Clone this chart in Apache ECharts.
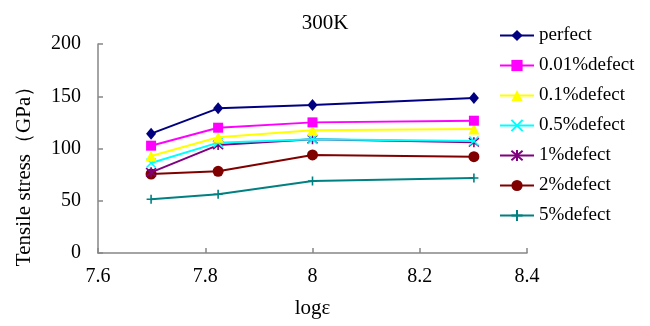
<!DOCTYPE html>
<html>
<head>
<meta charset="utf-8">
<script src="https://cdn.jsdelivr.net/npm/echarts@6/dist/echarts.min.js"></script>
<style>
  html, body { margin: 0; padding: 0; background: #fff; }
  #chart { width: 650px; height: 326px; }
</style>
</head>
<body>
<div id="chart"></div>
<script>
// Strain-rate axis (log of strain rate)
const logRate = [7.699, 7.824, 8.0, 8.301];

// Tensile stress (GPa) for each defect concentration
const perfect   = [114.2, 138.4, 141.6, 148.3];
const def001    = [102.7, 119.9, 125.0, 126.6];
const def01     = [92.8, 110.7, 117.4, 118.7];
const def05     = [86.1, 105.6, 108.8, 107.2];
const def1      = [77.2, 103.3, 108.8, 105.9];
const def2      = [75.6, 78.2, 93.8, 92.2];
const def5      = [51.4, 56.2, 68.9, 71.8];

const seriesNames = ['perfect', '0.01%defect', '0.1%defect', '0.5%defect', '1%defect', '2%defect', '5%defect'];
const seriesValues = [perfect, def001, def01, def05, def1, def2, def5];
const seriesColors = ['#000080', '#FF00FF', '#FFFF00', '#00FFFF', '#800080', '#800000', '#008080'];

const serif = '"Liberation Serif", "Times New Roman", serif';

const markers = [
  { symbol: 'diamond', size: [10, 12], stroke: false },
  { symbol: 'rect', size: 10, stroke: false },
  { symbol: 'triangle', size: 11, stroke: false },
  { symbol: 'path://M0,0L10,10M10,0L0,10', size: 9, stroke: true },
  { symbol: 'path://M0,0L10,10M10,0L0,10M5,-1L5,11', size: 10, stroke: true },
  { symbol: 'circle', size: 11, stroke: false },
  { symbol: 'path://M5,0L5,10M0,5L10,5', size: 9, stroke: true }
];

const series = seriesNames.map((name, i) => {
  const c = seriesColors[i];
  const m = markers[i];
  return {
    name: name,
    type: 'line',
    data: logRate.map((x, j) => [x, seriesValues[i][j]]),
    symbol: m.symbol,
    symbolSize: m.size,
    showSymbol: true,
    lineStyle: { color: c, width: 2 },
    itemStyle: m.stroke
      ? { color: c, borderColor: c, borderWidth: 1.6 }
      : { color: c, borderWidth: 0 },
    emphasis: { disabled: true },
    animation: false,
    z: 10 - i
  };
});

const chart = echarts.init(document.getElementById('chart'), null, { renderer: 'canvas' });
chart.setOption({
  backgroundColor: '#ffffff',
  animation: false,
  title: {
    text: '300K',
    left: 'center',
    top: 8,
    textStyle: { fontFamily: serif, fontSize: 21, fontWeight: 'normal', color: '#000' }
  },
  legend: {
    orient: 'vertical',
    left: 494,
    top: 21,
    itemWidth: 34,
    itemHeight: 14,
    itemGap: 11,
    textStyle: { fontFamily: serif, fontSize: 19, color: '#000' },
    data: seriesNames
  },
  grid: { left: 98, right: 123, top: 44, bottom: 73, containLabel: false },
  xAxis: {
    type: 'value',
    min: 7.6,
    max: 8.4,
    interval: 0.2,
    name: 'logε',
    nameLocation: 'middle',
    nameGap: 45,
    nameTextStyle: { fontFamily: serif, fontSize: 21, color: '#000' },
    axisLine: { show: true, lineStyle: { color: '#868686', width: 1.5 } },
    axisTick: { show: true, inside: true, length: 5, lineStyle: { color: '#868686', width: 1.5 } },
    axisLabel: {
      fontFamily: serif, fontSize: 20, color: '#000', margin: 14,
      formatter: v => String(Math.round(v * 10) / 10)
    },
    splitLine: { show: false }
  },
  yAxis: {
    type: 'value',
    min: 0,
    max: 200,
    interval: 50,
    axisLine: { show: true, lineStyle: { color: '#868686', width: 1.5 } },
    axisTick: { show: true, inside: true, length: 5, lineStyle: { color: '#868686', width: 1.5 } },
    axisLabel: { fontFamily: serif, fontSize: 20, color: '#000', margin: 17 },
    splitLine: { show: false }
  },
  graphic: [{
    type: 'text',
    x: 24,
    y: 171,
    rotation: Math.PI / 2,
    style: {
      text: 'Tensile stress（GPa）',
      fontFamily: serif,
      fontSize: 21,
      fill: '#000',
      align: 'center',
      verticalAlign: 'middle'
    }
  }],
  series: series
});
</script>
</body>
</html>
